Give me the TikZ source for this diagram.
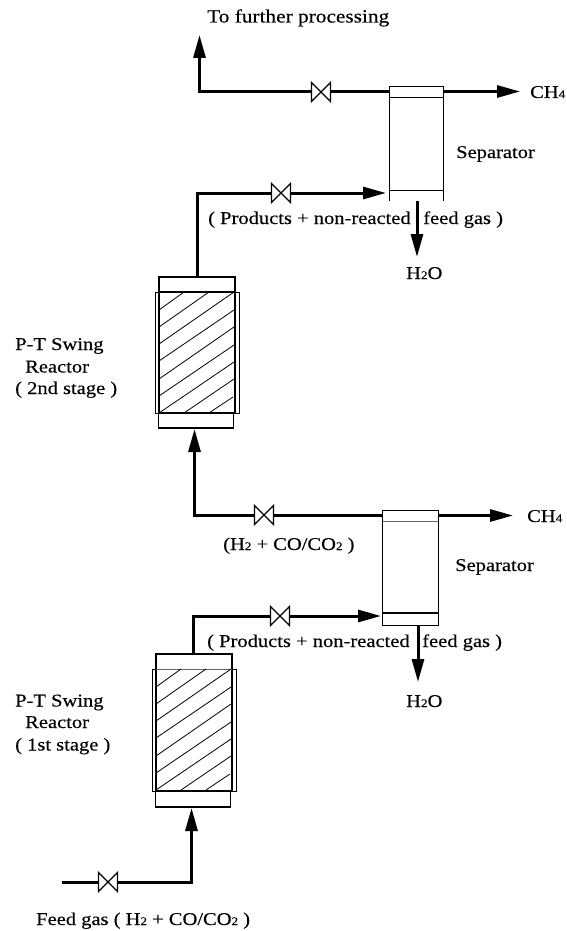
\documentclass[tikz,border=0pt]{standalone}
\usepackage{fontspec}
\setmainfont[FakeStretch=1.14,FakeBold=0.25]{Liberation Serif}
\usetikzlibrary{arrows.meta,calc}
\newcommand{\lo}[1]{{\fontsize{11.5pt}{11.5pt}\selectfont #1}}
\tikzset{
  x=1pt,y=-1pt,
  txt/.style={inner sep=0pt,anchor=base west,font=\fontsize{18pt}{20pt}\selectfont},
  pipe/.style={line width=3pt,line cap=butt,line join=miter},
  flow/.style={pipe,-{Triangle[length=23pt,width=12pt]}},
  vessel/.style={draw,line width=1.2pt,fill=white},
  sepframe/.style={inner sep=0pt},
  thinbox/.style={draw,line width=0.7pt},
  hatchline/.style={line width=0.8pt},
  valveicon/.style={inner sep=0pt,minimum size=20pt},
}
\newcommand{\reactor}[8]{% name, left outer, right outer, y top of box, y bed top, y bed bottom, y box bottom, bed top style
  \coordinate (#1top) at (#2+3.5,#4);
  \draw[line width=1.2pt,fill=white] (#2+3.5,#5) -- (#2+3.5,#4) -- (#3-4,#4) -- (#3-4,#5);
  \draw[vessel] (#2+3,#6) rectangle (#3-5.5,#7);
  \draw[thinbox] (#2,#5) rectangle (#3,#6);
  \draw[line width=1.1pt] (#2+3.5,#5) -- (#2+3.5,#6) -- (#3-4,#6) -- (#3-4,#5);
  \draw[#8] (#2+3.5,#5) -- (#3-4,#5);
  \begin{scope}[shift={(#2+3.5,#5)},hatchline]
    \draw (0,18) -- (25,0);
    \draw (0,35) -- (50,0);
    \draw (0,52) -- (75,0);
    \draw (0,69) -- (75,18);
    \draw (0,87) -- (75,35);
    \draw (0,104) -- (75,53);
    \draw (0,121) -- (75,70);
    \draw (25,121) -- (75,87);
    \draw (50,121) -- (74,105);
  \end{scope}
}
\begin{document}
\begin{tikzpicture}
\useasboundingbox (0,0) rectangle (567,931);
\fill[white] (0,0) rectangle (567,931);

% separators
\node[sepframe,minimum width=54pt,minimum height=114pt] (sepA) at (416.5,144) {};
\node[sepframe,minimum width=55pt,minimum height=114pt] (sepB) at (410.5,568) {};

% reactors
\reactor{R}{155.5}{239}{277}{292}{413}{428}{line width=1.6pt}
\reactor{Q}{152.5}{236}{654}{669}{791}{807}{line width=0.6pt,black!60}

% coordinates
\coordinate (upTop) at (199.5,35);
\node[valveicon] (v4) at (321,92) {};
\coordinate (ch4A) at (520,91.5);
\coordinate (r2out) at (197,277);
\node[valveicon] (v3) at (281,193) {};
\coordinate (tipA) at (386,193);
\coordinate (watA0) at (417,201);
\coordinate (watA1) at (417,257);
\coordinate (r2in) at (194.5,429);
\node[valveicon] (v2) at (264,515) {};
\coordinate (ch4B) at (513,515.5);
\coordinate (r1out) at (193,654);
\node[valveicon] (v1) at (280,616) {};
\coordinate (tipB) at (381,616);
\coordinate (watB0) at (418,625);
\coordinate (watB1) at (418,682);
\coordinate (feed) at (62,882);
\node[valveicon] (v0) at (108,882) {};
\coordinate (r1in) at (191.5,808);

% pipes
\draw[pipe] (sepA.west |- v4) -- (v4);
\draw[flow] (v4) -| (upTop);
\draw[pipe] (r2out) |- (v3);
\draw[flow] (v3) -- (tipA);
\draw[flow] (sepA.east |- ch4A) -- (ch4A);
\draw[flow] (watA0) -- (watA1);
\draw[pipe] (sepB.west |- v2) -- (v2);
\draw[flow] (v2) -| (r2in);
\draw[flow] (sepB.east |- ch4B) -- (ch4B);
\draw[pipe] (r1out) |- (v1);
\draw[flow] (v1) -- (tipB);
\draw[flow] (watB0) -- (watB1);
\draw[pipe] (feed) -- (v0);
\draw[flow] (v0) -| (r1in);

% separator bodies
\draw[line width=0.9pt] (sepA.south west) -- (sepA.north west) -- (sepA.north east) -- (sepA.south east);
\draw[line width=0.6pt] (389.5,97) -- (443.5,97);
\draw[line width=1pt] (389.5,190) -- (443.5,190);
\draw[line width=1pt] (sepB.south west) rectangle (sepB.north east);
\draw[line width=0.4pt,black!60] (383,521) -- (438,521);
\draw[line width=1.2pt] (383,613) -- (438,613);

% valves on top
\foreach \v in {v0,v1,v2,v3,v4}{
  \draw[line width=1.3pt,fill=white] ($(\v)+(-9.5,-9.5)$) -- ($(\v)+(9.5,9.5)$) -- ($(\v)+(9.5,-9.5)$) -- ($(\v)+(-9.5,9.5)$) -- cycle;
}

% labels
\node[txt,font=\fontsize{18.7pt}{20pt}\selectfont] (t1) at (207,22.5) {To further processing};
\node[txt] (t2) at (530,98) {CH\lo{4}};
\node[txt] (t3) at (456,158) {Separator};
\node[txt] (t4) at (208,224) {( Products + non-reacted\hspace{0.7em}feed gas )};
\node[txt] (t5) at (406,279) {H\lo{2}O};
\node[txt] (t6) at (527,522) {CH\lo{4}};
\node[txt] (t7) at (223,550) {(H\lo{2} + CO/CO\lo{2} )};
\node[txt] (t8) at (455,571) {Separator};
\node[txt] (t9) at (207,647) {( Products + non-reacted\hspace{0.7em}feed gas )};
\node[txt] (t10) at (406,707) {H\lo{2}O};
\node[txt] (t11) at (36,925) {Feed gas ( H\lo{2} + CO/CO\lo{2} )};
\node[txt] (t12) at (15,350) {P-T Swing};
\node[txt] (t13) at (25,372.5) {Reactor};
\node[txt] (t14) at (15,394) {( 2nd stage )};
\node[txt] (t15) at (15,706.5) {P-T Swing};
\node[txt] (t16) at (25,728) {Reactor};
\node[txt] (t17) at (15,750.5) {( 1st stage )};
\end{tikzpicture}
\end{document}
